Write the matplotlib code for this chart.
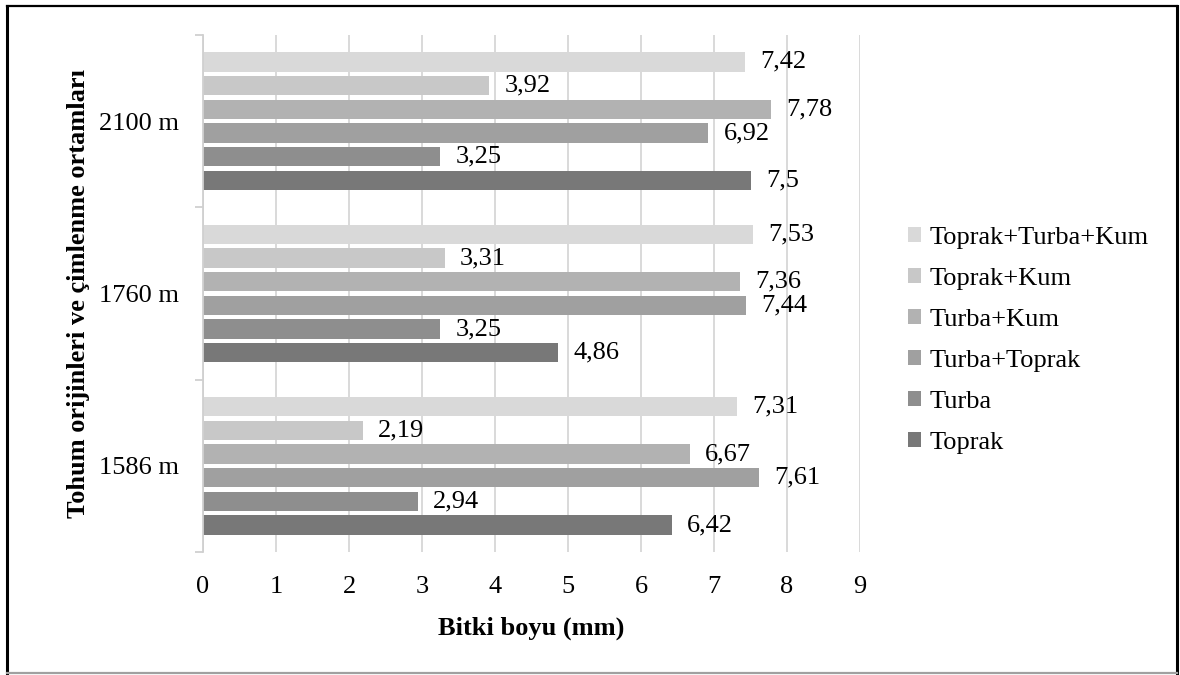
import matplotlib
matplotlib.use("Agg")
import matplotlib.pyplot as plt
import numpy as np
from matplotlib.lines import Line2D

plt.rcParams['font.family'] = ['Liberation Serif', 'DejaVu Serif']

# Data: plant height (mm) by seed origin and germination medium
origins = ["1586 m", "1760 m", "2100 m"]
media = ["Toprak", "Turba", "Turba+Toprak", "Turba+Kum", "Toprak+Kum", "Toprak+Turba+Kum"]
toprak = [6.42, 4.86, 7.5]
turba = [2.94, 3.25, 3.25]
turba_toprak = [7.61, 7.44, 6.92]
turba_kum = [6.67, 7.36, 7.78]
toprak_kum = [2.19, 3.31, 3.92]
toprak_turba_kum = [7.31, 7.53, 7.42]
series = [toprak, turba, turba_toprak, turba_kum, toprak_kum, toprak_turba_kum]
colors = ["#787878", "#8e8e8e", "#a0a0a0", "#b2b2b2", "#c8c8c8", "#d9d9d9"]
xticks = list(range(0, 10))

FS = 19
fig = plt.figure(figsize=(11.8, 6.75), dpi=100)
ax = fig.add_axes([203 / 1180, 1 - 552 / 675, (860 - 203) / 1180, (552 - 35) / 675])

pitch = 0.1375
height = 0.113
ypos = np.arange(len(origins))
n = len(series)
for i, (vals, col, name) in enumerate(zip(series, colors, media)):
    y = ypos + (i - (n - 1) / 2) * pitch
    bars = ax.barh(y, vals, height=height, color=col, label=name, zorder=3)
    for yy, v in zip(y, vals):
        txt = f"{v:g}".replace(".", ",")
        ax.annotate(txt, xy=(v, yy), xytext=(11, 0), textcoords="offset points",
                    ha="left", va="center", fontsize=FS, color="black")

ax.set_xlim(0, 9)
ax.set_ylim(-0.5, 2.5)
ax.set_xticks(xticks)
ax.set_xticklabels([str(t) for t in xticks], fontsize=FS)
ax.set_yticks(ypos)
ax.set_yticklabels(origins, fontsize=FS)
ax.set_yticks([-0.5, 0.5, 1.5, 2.5], minor=True)
ax.tick_params(axis="x", length=0, pad=17)
ax.tick_params(axis="y", which="major", length=0, pad=17)
ax.tick_params(axis="y", which="minor", length=6, width=1.3, color="#d0d0d0")
ax.grid(axis="x", color="#d9d9d9", linewidth=1.4, zorder=0)
for s in ["top", "right", "bottom"]:
    ax.spines[s].set_visible(False)
ax.spines["left"].set_color("#d0d0d0")
ax.spines["left"].set_linewidth(1.3)
ax.spines["left"].set_zorder(4)

fig.text(531 / 1180, 1 - 628 / 675, "Bitki boyu (mm)", fontsize=FS, fontweight="bold",
         ha="center", va="center")
fig.text(79 / 1180, 1 - 294 / 675, "Tohum orijinleri ve çimlenme ortamları", fontsize=FS,
         fontweight="bold", rotation=90, ha="center", va="center")

handles, labels = ax.get_legend_handles_labels()
leg = fig.legend(handles[::-1], labels[::-1], loc="center left",
                 bbox_to_anchor=(908 / 1180, 1 - 340.5 / 675), frameon=False,
                 fontsize=FS, handlelength=0.5, handleheight=0.5, handletextpad=0.3,
                 labelspacing=0.72, borderpad=0, borderaxespad=0)

# Outer frame around the chart
fx = lambda px: px / 1180
fy = lambda py: 1 - py / 675
fig.add_artist(Line2D([fx(7), fx(7)], [fy(5.5), fy(673)], color="black", linewidth=2.2))
fig.add_artist(Line2D([fx(7), fx(1177)], [fy(5.5), fy(5.5)], color="black", linewidth=1.6))
fig.add_artist(Line2D([fx(1177), fx(1177)], [fy(5.5), fy(673)], color="black", linewidth=2.2))
fig.add_artist(Line2D([fx(7), fx(1177)], [fy(673), fy(673)], color="#a0a0a0", linewidth=1.6))

fig.savefig("out.png", dpi=100)
